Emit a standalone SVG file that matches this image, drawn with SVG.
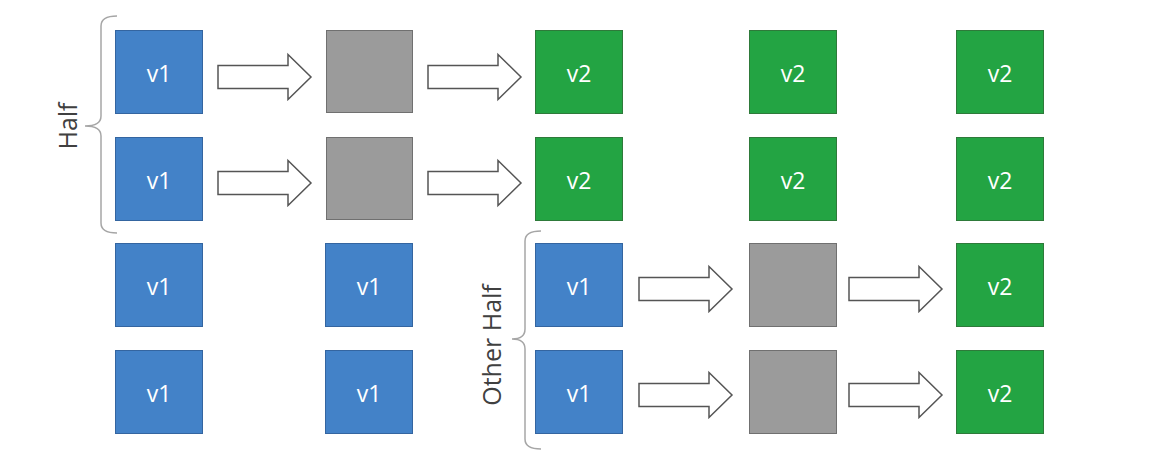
<svg xmlns="http://www.w3.org/2000/svg" width="1162" height="469" viewBox="0 0 1162 469">
<style>
.b{fill:#4382C8;stroke:#3465A0;stroke-width:1}
.g{fill:#23A443;stroke:#2E7A3A;stroke-width:1}
.x{fill:#9B9B9B;stroke:#707070;stroke-width:1}
.t{font-family:"Open Sans","Liberation Sans",sans-serif;font-size:23px;fill:#fff;text-anchor:middle}
.a{fill:#fff;stroke:#555;stroke-width:1.5;stroke-linejoin:miter}
.br{fill:none;stroke:#A6A6A6;stroke-width:1.5}
.l{font-family:"Open Sans","Liberation Sans",sans-serif;font-size:25px;fill:#404040;text-anchor:middle}
</style>
<defs>
<path id="arr" d="M0,-11.5 H70 V-22.5 L93,0 L70,22.5 V11.5 H0 Z"/>
</defs>
<g id="brace-half">
<path class="br" d="M117,16 Q101,16 101,26 V116 Q101,126 85,126 Q101,126 101,136 V223 Q101,233 117,233"/>
<text class="l" transform="translate(77,126) rotate(-90)">Half</text>
</g>
<g id="brace-other">
<path class="br" d="M541,231 Q525,231 525,241 V329 Q525,339 512,339 Q525,339 525,349 V439 Q525,449 541,449"/>
<text class="l" transform="translate(501,345) rotate(-90)">Other Half</text>
</g>
<g id="connectors">
<use href="#arr" class="a" x="218" y="77"/>
<use href="#arr" class="a" x="428" y="77"/>
<use href="#arr" class="a" x="218" y="183"/>
<use href="#arr" class="a" x="428" y="183"/>
<use href="#arr" class="a" x="639" y="289"/>
<use href="#arr" class="a" x="849" y="289"/>
<use href="#arr" class="a" x="639" y="395"/>
<use href="#arr" class="a" x="849" y="395"/>
</g>
<g id="r1c1"><rect class="b" x="115.5" y="30.5" width="87" height="83"/><text class="t" x="159" y="82">v1</text></g>
<g id="r1c2"><rect class="x" x="326.5" y="30.5" width="86" height="82"/></g>
<g id="r1c3"><rect class="g" x="535.5" y="30.5" width="87" height="83"/><text class="t" x="579" y="82">v2</text></g>
<g id="r1c4"><rect class="g" x="749.5" y="30.5" width="87" height="83"/><text class="t" x="793" y="82">v2</text></g>
<g id="r1c5"><rect class="g" x="956.5" y="30.5" width="87" height="83"/><text class="t" x="1000" y="82">v2</text></g>
<g id="r2c1"><rect class="b" x="115.5" y="137.5" width="87" height="83"/><text class="t" x="159" y="189">v1</text></g>
<g id="r2c2"><rect class="x" x="326.5" y="137.5" width="86" height="82"/></g>
<g id="r2c3"><rect class="g" x="535.5" y="137.5" width="87" height="83"/><text class="t" x="579" y="189">v2</text></g>
<g id="r2c4"><rect class="g" x="749.5" y="137.5" width="87" height="83"/><text class="t" x="793" y="189">v2</text></g>
<g id="r2c5"><rect class="g" x="956.5" y="137.5" width="87" height="83"/><text class="t" x="1000" y="189">v2</text></g>
<g id="r3c1"><rect class="b" x="115.5" y="243.5" width="87" height="83"/><text class="t" x="159" y="295">v1</text></g>
<g id="r3c2"><rect class="b" x="325.5" y="243.5" width="87" height="83"/><text class="t" x="369" y="295">v1</text></g>
<g id="r3c3"><rect class="b" x="535.5" y="243.5" width="87" height="83"/><text class="t" x="579" y="295">v1</text></g>
<g id="r3c4"><rect class="x" x="749.5" y="243.5" width="87" height="83"/></g>
<g id="r3c5"><rect class="g" x="956.5" y="243.5" width="87" height="83"/><text class="t" x="1000" y="295">v2</text></g>
<g id="r4c1"><rect class="b" x="115.5" y="350.5" width="87" height="83"/><text class="t" x="159" y="402">v1</text></g>
<g id="r4c2"><rect class="b" x="325.5" y="350.5" width="87" height="83"/><text class="t" x="369" y="402">v1</text></g>
<g id="r4c3"><rect class="b" x="535.5" y="350.5" width="87" height="83"/><text class="t" x="579" y="402">v1</text></g>
<g id="r4c4"><rect class="x" x="749.5" y="350.5" width="87" height="83"/></g>
<g id="r4c5"><rect class="g" x="956.5" y="350.5" width="87" height="83"/><text class="t" x="1000" y="402">v2</text></g>
</svg>
